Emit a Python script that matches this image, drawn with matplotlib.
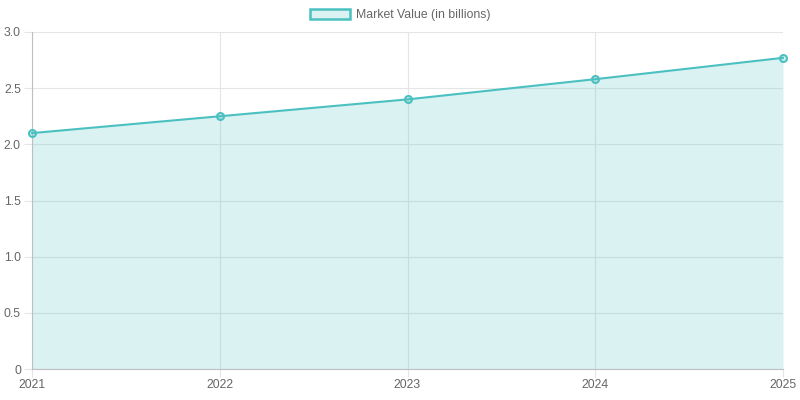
import matplotlib

matplotlib.use("Agg")
import matplotlib.pyplot as plt
from matplotlib.patches import Patch
from matplotlib.ticker import FixedLocator, FixedFormatter

years = ["2021", "2022", "2023", "2024", "2025"]
market_value = [2.10, 2.25, 2.40, 2.58, 2.77]
y_ticks = [0, 0.5, 1.0, 1.5, 2.0, 2.5, 3.0]
y_tick_labels = ["0", "0.5", "1.0", "1.5", "2.0", "2.5", "3.0"]

line_color = (75 / 255, 192 / 255, 192 / 255)
fill_color = (75 / 255, 192 / 255, 192 / 255, 0.2)
grid_color = "#e5e5e5"

plt.rcParams["font.family"] = ["Liberation Sans", "DejaVu Sans"]

fig = plt.figure(figsize=(8, 4), dpi=100)
ax = fig.add_axes([0.04, 0.0775, 0.93875, 0.8425])

x = list(range(len(years)))
ax.fill_between(x, 0, market_value, color=fill_color, linewidth=0)
ax.plot(x, market_value, color=line_color, linewidth=1.5,
        marker="o", markersize=5, markerfacecolor=fill_color,
        markeredgecolor=line_color, markeredgewidth=1.5, clip_on=False, zorder=3)

ax.set_xlim(0, len(years) - 1)
ax.set_ylim(0, 3.0)
ax.xaxis.set_major_locator(FixedLocator(x))
ax.xaxis.set_major_formatter(FixedFormatter(years))
ax.yaxis.set_major_locator(FixedLocator(y_ticks))
ax.yaxis.set_major_formatter(FixedFormatter(y_tick_labels))

ax.grid(True, color=grid_color, linewidth=0.8)
ax.set_axisbelow(True)
for side in ["top", "right"]:
    ax.spines[side].set_visible(False)
for side in ["left", "bottom"]:
    ax.spines[side].set_color("#bfbfbf")
    ax.spines[side].set_linewidth(0.8)
ax.tick_params(axis="both", color=grid_color, labelcolor="#666666",
               labelsize=8.8, length=6, width=0.8)
ax.tick_params(axis="x", pad=1)
ax.tick_params(axis="y", pad=2)

handle = Patch(facecolor=fill_color, edgecolor=line_color, linewidth=1.8)
fig.legend([handle], ["Market Value (in billions)"], loc="upper center",
           bbox_to_anchor=(0.5, 1.005), frameon=False, fontsize=8.8,
           labelcolor="#666666", handlelength=3.3, handleheight=0.9,
           handletextpad=0.5)

fig.savefig("out.png", dpi=100)
